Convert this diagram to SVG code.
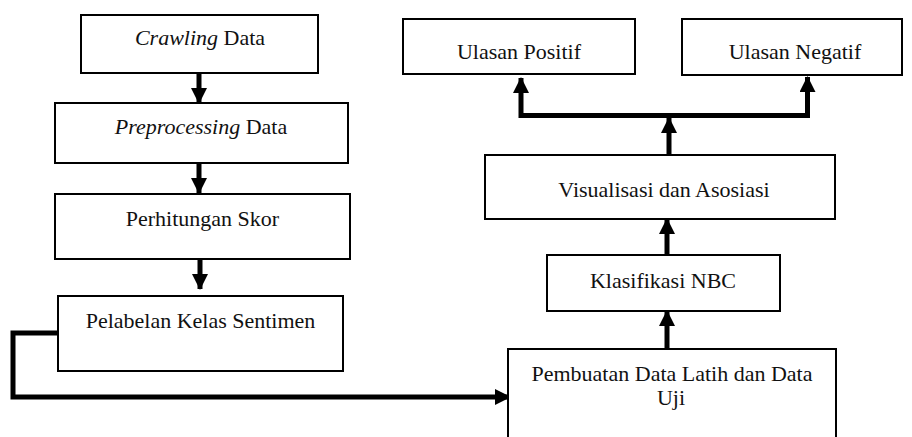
<svg xmlns="http://www.w3.org/2000/svg" width="912" height="437" viewBox="0 0 912 437">
<style>
.box{fill:#fff;stroke:#000;stroke-width:2}
.lbl{font-family:"Liberation Serif","Times New Roman",serif;font-size:22px;fill:#111;text-anchor:middle}
.it{font-style:italic}
.con{fill:none;stroke:#000;stroke-width:5;stroke-linejoin:miter}
</style>
<defs>
<marker id="ah" markerUnits="userSpaceOnUse" markerWidth="16" markerHeight="16" viewBox="0 0 16 16" refX="15" refY="8" orient="auto-start-reverse">
<path d="M0,0 L16,8 L0,16 z" fill="#000"/>
</marker>
</defs>
<rect width="912" height="437" fill="#fff"/>
<g id="connectors">
<path class="con" d="M199,73 L199,103" marker-end="url(#ah)"/>
<path class="con" d="M199,163 L199,193" marker-end="url(#ah)"/>
<path class="con" d="M200,259 L200,289" marker-end="url(#ah)"/>
<path class="con" d="M58,333 L13,333 L13,397 L510,397" marker-end="url(#ah)"/>
<path class="con" d="M667,349 L667,311" marker-end="url(#ah)"/>
<path class="con" d="M667,255 L667,219" marker-end="url(#ah)"/>
<path class="con" d="M669,155 L669,118" marker-end="url(#ah)"/>
<path class="con" d="M521,78 L521,115.5 L807.5,115.5 L807.5,77" marker-start="url(#ah)" marker-end="url(#ah)"/>
</g>
<g id="n1"><rect class="box" x="81" y="15" width="237" height="58"/><text class="lbl" x="200" y="45"><tspan class="it">Crawling</tspan> Data</text></g>
<g id="n2"><rect class="box" x="55" y="103" width="293" height="60"/><text class="lbl" x="201" y="134"><tspan class="it">Preprocessing</tspan> Data</text></g>
<g id="n3"><rect class="box" x="55" y="194" width="295" height="65"/><text class="lbl" x="202.5" y="225.5">Perhitungan Skor</text></g>
<g id="n4"><rect class="box" x="58" y="296" width="285" height="75"/><text class="lbl" x="200.5" y="327.5">Pelabelan Kelas Sentimen</text></g>
<g id="n5"><rect class="box" x="508" y="349" width="328" height="100"/><text class="lbl" x="672" y="381">Pembuatan Data Latih dan Data</text><text class="lbl" x="671" y="405">Uji</text></g>
<g id="n6"><rect class="box" x="547" y="255" width="233" height="56"/><text class="lbl" x="663" y="288">Klasifikasi NBC</text></g>
<g id="n7"><rect class="box" x="485" y="155" width="350" height="64"/><text class="lbl" x="664" y="197">Visualisasi dan Asosiasi</text></g>
<g id="n8"><rect class="box" x="403" y="19" width="232" height="55"/><text class="lbl" x="519" y="59">Ulasan Positif</text></g>
<g id="n9"><rect class="box" x="682" y="19" width="220" height="56"/><text class="lbl" x="795" y="59">Ulasan Negatif</text></g>
</svg>
